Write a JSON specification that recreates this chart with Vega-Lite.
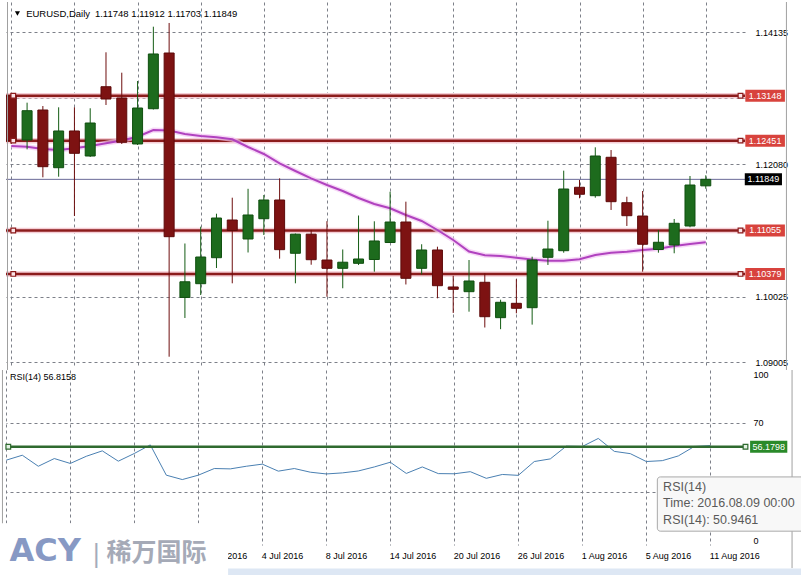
{
  "$schema": "https://vega.github.io/schema/vega-lite/v6.json",
  "padding": {"left": 0, "top": 1, "right": 0, "bottom": 0},
  "background": "white",
  "spacing": 4,
  "bounds": "flush",
  "config": {
    "view": {"stroke": null},
    "font": "Liberation Sans",
    "axis": {
      "labelFont": "Liberation Sans",
      "labelFontSize": 9,
      "labelColor": "#000000",
      "gridColor": "#7d8089",
      "gridDash": [3, 3],
      "gridWidth": 1,
      "gridOpacity": 1,
      "ticks": false,
      "domain": false,
      "title": null,
      "labelOverlap": false
    }
  },
  "datasets": {
    "candles": [
      {"k":0,"o":1.13148,"h":1.13190,"l":1.12400,"c":1.12451,"ma":1.12368},
      {"k":1,"o":1.12461,"h":1.13041,"l":1.12316,"c":1.12916,"ma":1.12357},
      {"k":2,"o":1.12927,"h":1.12989,"l":1.11881,"c":1.12046,"ma":1.12321},
      {"k":3,"o":1.12030,"h":1.12969,"l":1.11890,"c":1.12601,"ma":1.12305},
      {"k":4,"o":1.12601,"h":1.12969,"l":1.11279,"c":1.12254,"ma":1.12332},
      {"k":5,"o":1.12212,"h":1.12954,"l":1.12197,"c":1.12725,"ma":1.12368},
      {"k":6,"o":1.13289,"h":1.13824,"l":1.13005,"c":1.13098,"ma":1.12410},
      {"k":7,"o":1.13114,"h":1.13507,"l":1.12399,"c":1.12425,"ma":1.12453},
      {"k":8,"o":1.12399,"h":1.13378,"l":1.12383,"c":1.12958,"ma":1.12512},
      {"k":9,"o":1.12947,"h":1.14222,"l":1.12935,"c":1.13798,"ma":1.12616},
      {"k":10,"o":1.13813,"h":1.14280,"l":1.09092,"c":1.10958,"ma":1.12609},
      {"k":11,"o":1.10013,"h":1.10852,"l":1.09694,"c":1.10257,"ma":1.12554},
      {"k":12,"o":1.10227,"h":1.11113,"l":1.10051,"c":1.10642,"ma":1.12523},
      {"k":13,"o":1.10631,"h":1.11315,"l":1.10471,"c":1.11248,"ma":1.12503},
      {"k":14,"o":1.11217,"h":1.11564,"l":1.10233,"c":1.11054,"ma":1.12472},
      {"k":15,"o":1.10922,"h":1.11702,"l":1.10712,"c":1.11295,"ma":1.12352},
      {"k":16,"o":1.11237,"h":1.11606,"l":1.10984,"c":1.11528,"ma":1.12243},
      {"k":17,"o":1.11528,"h":1.11865,"l":1.10616,"c":1.10756,"ma":1.12096},
      {"k":18,"o":1.10700,"h":1.11007,"l":1.10233,"c":1.10997,"ma":1.11979},
      {"k":19,"o":1.10997,"h":1.11062,"l":1.10522,"c":1.10600,"ma":1.11865},
      {"k":20,"o":1.10595,"h":1.11199,"l":1.10025,"c":1.10466,"ma":1.11761},
      {"k":21,"o":1.10466,"h":1.10759,"l":1.10156,"c":1.10561,"ma":1.11668},
      {"k":22,"o":1.10544,"h":1.11287,"l":1.10518,"c":1.10611,"ma":1.11559},
      {"k":23,"o":1.10603,"h":1.11197,"l":1.10414,"c":1.10891,"ma":1.11466},
      {"k":24,"o":1.10867,"h":1.11657,"l":1.10860,"c":1.11186,"ma":1.11399},
      {"k":25,"o":1.11186,"h":1.11502,"l":1.10215,"c":1.10311,"ma":1.11295},
      {"k":26,"o":1.10466,"h":1.10840,"l":1.10370,"c":1.10751,"ma":1.11202},
      {"k":27,"o":1.10751,"h":1.10802,"l":1.10000,"c":1.10196,"ma":1.11062},
      {"k":28,"o":1.10176,"h":1.10350,"l":1.09772,"c":1.10140,"ma":1.10906},
      {"k":29,"o":1.10103,"h":1.10595,"l":1.09792,"c":1.10269,"ma":1.10728},
      {"k":30,"o":1.10249,"h":1.10389,"l":1.09546,"c":1.09714,"ma":1.10670},
      {"k":31,"o":1.09699,"h":1.09978,"l":1.09520,"c":1.09938,"ma":1.10658},
      {"k":32,"o":1.09922,"h":1.10297,"l":1.09767,"c":1.09845,"ma":1.10630},
      {"k":33,"o":1.09854,"h":1.10647,"l":1.09591,"c":1.10595,"ma":1.10602},
      {"k":34,"o":1.10637,"h":1.11206,"l":1.10518,"c":1.10766,"ma":1.10585},
      {"k":35,"o":1.10740,"h":1.11984,"l":1.10709,"c":1.11699,"ma":1.10585},
      {"k":36,"o":1.11726,"h":1.11839,"l":1.11555,"c":1.11617,"ma":1.10606},
      {"k":37,"o":1.11595,"h":1.12347,"l":1.11564,"c":1.12212,"ma":1.10673},
      {"k":38,"o":1.12192,"h":1.12305,"l":1.11373,"c":1.11502,"ma":1.10709},
      {"k":39,"o":1.11486,"h":1.11579,"l":1.11124,"c":1.11284,"ma":1.10724},
      {"k":40,"o":1.11279,"h":1.11668,"l":1.10414,"c":1.10840,"ma":1.10751},
      {"k":41,"o":1.10759,"h":1.11062,"l":1.10709,"c":1.10871,"ma":1.10771},
      {"k":42,"o":1.10829,"h":1.11233,"l":1.10700,"c":1.11166,"ma":1.10813},
      {"k":43,"o":1.11124,"h":1.11901,"l":1.11104,"c":1.11761,"ma":1.10844},
      {"k":44,"o":1.11748,"h":1.11912,"l":1.11703,"c":1.11849,"ma":1.10871}
    ],
    "rsi": [
      {"k":0,"rsi":48.5},{"k":1,"rsi":51.3},{"k":2,"rsi":45.0},{"k":3,"rsi":49.4},
      {"k":4,"rsi":46.6},{"k":5,"rsi":50.7},{"k":6,"rsi":53.8},{"k":7,"rsi":47.9},
      {"k":8,"rsi":52.3},{"k":9,"rsi":57.2},{"k":10,"rsi":39.9},{"k":11,"rsi":37.4},
      {"k":12,"rsi":39.9},{"k":13,"rsi":43.7},{"k":14,"rsi":43.5},{"k":15,"rsi":45.0},
      {"k":16,"rsi":46.2},{"k":17,"rsi":42.2},{"k":18,"rsi":43.7},{"k":19,"rsi":41.6},
      {"k":20,"rsi":40.6},{"k":21,"rsi":41.2},{"k":22,"rsi":42.3},{"k":23,"rsi":44.6},
      {"k":24,"rsi":47.3},{"k":25,"rsi":40.9},{"k":26,"rsi":44.6},{"k":27,"rsi":40.8},
      {"k":28,"rsi":40.7},{"k":29,"rsi":41.9},{"k":30,"rsi":38.1},{"k":31,"rsi":40.3},
      {"k":32,"rsi":39.8},{"k":33,"rsi":47.7},{"k":34,"rsi":49.2},{"k":35,"rsi":56.5},
      {"k":36,"rsi":56.3},{"k":37,"rsi":60.9},{"k":38,"rsi":53.5},{"k":39,"rsi":52.2},
      {"k":40,"rsi":47.7},{"k":41,"rsi":48.2},{"k":42,"rsi":50.9},{"k":43,"rsi":56.3},
      {"k":44,"rsi":56.8}
    ],
    "hlines": [
      {"price": 1.13148},
      {"price": 1.12451},
      {"price": 1.11055},
      {"price": 1.10379}
    ]
  },
  "vconcat": [
    {
      "width": 739,
      "height": 364,
      "layer": [
        {
          "data": {"name": "hlines"},
          "mark": {"type": "rule", "color": "#f5cdd5", "strokeWidth": 5.5},
          "encoding": {
            "y": {"field": "price", "type": "quantitative",
                  "scale": {"domain": [1.089476, 1.146060], "nice": false, "zero": false},
                  "axis": {"orient": "right", "values": [1.14135, 1.13625, 1.1311, 1.1259, 1.1208, 1.1157, 1.11055, 1.10535, 1.10025, 1.09515, 1.09005],
                           "format": ".5f", "labelPadding": 10, "grid": true,
                           "labelExpr": "(datum.value == 1.1311 || datum.value == 1.11055) ? '' : datum.label"}}
          }
        },
        {
          "data": {"name": "hlines"},
          "mark": {"type": "rule", "color": "#8c1c1c", "strokeWidth": 2.5},
          "encoding": {"y": {"field": "price", "type": "quantitative"}}
        },
        {
          "data": {"name": "candles"},
          "transform": [{"filter": "datum.k == 44"}],
          "mark": {"type": "rule", "color": "#6a6a98", "strokeWidth": 1},
          "encoding": {"y": {"field": "c", "type": "quantitative"}}
        },
        {
          "data": {"name": "candles"},
          "mark": {"type": "line", "color": "#f3c8f3", "strokeWidth": 5, "opacity": 0.7, "clip": true},
          "encoding": {
            "x": {"field": "k", "type": "quantitative",
                  "scale": {"domain": [-0.01875, 46.16875], "nice": false, "zero": false},
                  "axis": {"values": [0,2,4,6,8,10,12,14,16,18,20,22,24,26,28,30,32,34,36,38,40,42,44,46], "labels": false, "grid": true, "minExtent": 0, "maxExtent": 0}},
            "y": {"field": "ma", "type": "quantitative"}
          }
        },
        {
          "data": {"name": "candles"},
          "mark": {"type": "line", "color": "#b042bf", "strokeWidth": 2, "clip": true},
          "encoding": {
            "x": {"field": "k", "type": "quantitative"},
            "y": {"field": "ma", "type": "quantitative"}
          }
        },
        {
          "data": {"name": "candles"},
          "mark": {"type": "rule", "strokeWidth": 1, "clip": true},
          "encoding": {
            "x": {"field": "k", "type": "quantitative"},
            "y": {"field": "l", "type": "quantitative"},
            "y2": {"field": "h"},
            "color": {"condition": {"test": "datum.c >= datum.o", "value": "#145c14"}, "value": "#6e0e0e"}
          }
        },
        {
          "data": {"name": "candles"},
          "mark": {"type": "bar", "size": 10, "clip": true, "strokeWidth": 1},
          "encoding": {
            "x": {"field": "k", "type": "quantitative"},
            "y": {"field": "o", "type": "quantitative"},
            "y2": {"field": "c"},
            "fill": {"condition": {"test": "datum.c >= datum.o", "value": "#1d6b1d"}, "value": "#7d1212"},
            "stroke": {"condition": {"test": "datum.c >= datum.o", "value": "#0f4f0f"}, "value": "#5e0a0a"}
          }
        },
        {
          "data": {"name": "hlines"},
          "mark": {"type": "point", "shape": "square", "size": 22, "filled": true, "fill": "#fbe4e8", "stroke": "#8c1c1c", "strokeWidth": 1.2, "opacity": 1},
          "encoding": {
            "x": {"datum": 0.125, "type": "quantitative"},
            "y": {"field": "price", "type": "quantitative"}
          }
        },
        {
          "data": {"name": "hlines"},
          "mark": {"type": "point", "shape": "square", "size": 22, "filled": true, "fill": "#fbe4e8", "stroke": "#8c1c1c", "strokeWidth": 1.2, "opacity": 1},
          "encoding": {
            "x": {"datum": 46.2, "type": "quantitative"},
            "y": {"field": "price", "type": "quantitative"}
          }
        },
        {
          "data": {"name": "hlines"},
          "mark": {"type": "point", "shape": "M-3.3,-1H3.3V1H-3.3Z", "size": 144, "filled": true, "fill": "#d8433d", "strokeWidth": 0, "opacity": 1},
          "encoding": {
            "x": {"datum": 47.76, "type": "quantitative"},
            "y": {"field": "price", "type": "quantitative"}
          }
        },
        {
          "data": {"name": "hlines"},
          "mark": {"type": "text", "fontSize": 9, "color": "#ffffff", "align": "center", "baseline": "middle"},
          "encoding": {
            "x": {"datum": 47.76, "type": "quantitative"},
            "y": {"field": "price", "type": "quantitative"},
            "text": {"field": "price", "type": "quantitative", "format": ".5f"}
          }
        },
        {
          "data": {"name": "candles"},
          "transform": [{"filter": "datum.k == 44"}],
          "mark": {"type": "point", "shape": "M-3.1,-1H3.1V1H-3.1Z", "size": 144, "filled": true, "fill": "#000000", "strokeWidth": 0, "opacity": 1},
          "encoding": {
            "x": {"datum": 47.65, "type": "quantitative"},
            "y": {"field": "c", "type": "quantitative"}
          }
        },
        {
          "data": {"name": "candles"},
          "transform": [{"filter": "datum.k == 44"}],
          "mark": {"type": "text", "fontSize": 9, "color": "#ffffff", "align": "center", "baseline": "middle"},
          "encoding": {
            "x": {"datum": 47.65, "type": "quantitative"},
            "y": {"field": "c", "type": "quantitative"},
            "text": {"field": "c", "type": "quantitative", "format": ".5f"}
          }
        },
        {
          "data": {"values": [{}]},
          "mark": {"type": "point", "shape": "triangle-down", "size": 26, "filled": true, "fill": "#000000", "strokeWidth": 0, "opacity": 1},
          "encoding": {
            "x": {"datum": 0.39, "type": "quantitative"},
            "y": {"datum": 1.144272, "type": "quantitative"}
          }
        },
        {
          "data": {"values": [{}]},
          "mark": {"type": "text", "fontSize": 9.5, "color": "#000000", "align": "left", "baseline": "middle", "text": "EURUSD,Daily"},
          "encoding": {
            "x": {"datum": 0.94, "type": "quantitative"},
            "y": {"datum": 1.144272, "type": "quantitative"}
          }
        },
        {
          "data": {"name": "candles"},
          "transform": [{"filter": "datum.k == 44"}, {"calculate": "format(datum.o, '.5f') + ' ' + format(datum.h, '.5f') + ' ' + format(datum.l, '.5f') + ' ' + format(datum.c, '.5f')", "as": "ohlc"}],
          "mark": {"type": "text", "fontSize": 9.5, "color": "#000000", "align": "left", "baseline": "middle"},
          "encoding": {
            "x": {"datum": 5.3, "type": "quantitative"},
            "y": {"datum": 1.144272, "type": "quantitative"},
            "text": {"field": "ohlc", "type": "nominal"}
          }
        },
        {
          "data": {"values": [{}]},
          "mark": {"type": "rule", "color": "#a0a0a0", "strokeWidth": 1},
          "encoding": {
            "x": {"datum": 49.11, "type": "quantitative"},
            "y": {"datum": 1.146060, "type": "quantitative"},
            "y2": {"datum": 1.08886}
          }
        },
        {
          "data": {"values": [{}]},
          "mark": {"type": "rule", "color": "#a0a0a0", "strokeWidth": 1},
          "encoding": {
            "x": {"datum": -0.24, "type": "quantitative"},
            "y": {"datum": 1.146060, "type": "quantitative"},
            "y2": {"datum": 1.08886}
          }
        }
      ]
    },
    {
      "width": 739,
      "height": 175,
      "layer": [
        {
          "data": {"name": "rsi"},
          "mark": {"type": "line", "color": "#4a80b2", "strokeWidth": 1},
          "encoding": {
            "x": {"field": "k", "type": "quantitative",
                  "scale": {"domain": [-0.01875, 46.16875], "nice": false, "zero": false},
                  "axis": {"values": [0,2,4,6,8,10,12,14,16,18,20,22,24,26,28,30,32,34,36,38,40,42,44,46],
                           "grid": true, "labelAlign": "left", "labelBaseline": "top", "labelPadding": 6, "labelFlush": false, "labelOffset": -1,
                           "labelExpr": "(datum.value % 4 == 0 && datum.value >= 12) ? ['10 Jun 2016','16 Jun 2016','22 Jun 2016','28 Jun 2016','4 Jul 2016','8 Jul 2016','14 Jul 2016','20 Jul 2016','26 Jul 2016','1 Aug 2016','5 Aug 2016','11 Aug 2016'][datum.value / 4] : ''"}},
            "y": {"field": "rsi", "type": "quantitative",
                  "scale": {"domain": [0, 100], "nice": false, "zero": false},
                  "axis": {"orient": "right", "values": [0, 30, 70, 100], "labelPadding": 8, "labelFlush": true, "grid": true,
                           "labelExpr": "datum.value == 30 ? '' : datum.label",
                           "gridOpacity": {"condition": {"test": "datum.value == 0 || datum.value == 100", "value": 0}, "value": 1}}}
          }
        },
        {
          "data": {"values": [{}]},
          "mark": {"type": "rule", "color": "#2f6a2f", "strokeWidth": 2.5},
          "encoding": {"y": {"datum": 56.1798, "type": "quantitative"}}
        },
        {
          "data": {"values": [{"k": 0.125}, {"k": 46.2}]},
          "mark": {"type": "point", "shape": "square", "size": 22, "filled": true, "fill": "#e4f2e4", "stroke": "#2f6a2f", "strokeWidth": 1.2, "opacity": 1},
          "encoding": {
            "x": {"field": "k", "type": "quantitative"},
            "y": {"datum": 56.1798, "type": "quantitative"}
          }
        },
        {
          "data": {"values": [{}]},
          "mark": {"type": "point", "shape": "M-3.1,-1H3.1V1H-3.1Z", "size": 144, "filled": true, "fill": "#2a8a2a", "strokeWidth": 0, "opacity": 1},
          "encoding": {
            "x": {"datum": 47.65, "type": "quantitative"},
            "y": {"datum": 56.1798, "type": "quantitative"}
          }
        },
        {
          "data": {"values": [{}]},
          "mark": {"type": "text", "fontSize": 9, "color": "#ffffff", "align": "center", "baseline": "middle", "text": "56.1798"},
          "encoding": {
            "x": {"datum": 47.65, "type": "quantitative"},
            "y": {"datum": 56.1798, "type": "quantitative"}
          }
        },
        {
          "data": {"values": [{}]},
          "mark": {"type": "text", "fontSize": 9, "color": "#000000", "align": "left", "baseline": "middle", "text": "RSI(14) 56.8158"},
          "encoding": {
            "x": {"datum": 0.23, "type": "quantitative"},
            "y": {"datum": 96.2, "type": "quantitative"}
          }
        },
        {
          "data": {"values": [{}]},
          "mark": {"type": "rule", "color": "#a0a0a0", "strokeWidth": 1},
          "encoding": {
            "x": {"datum": 49.11, "type": "quantitative"},
            "y": {"datum": 100, "type": "quantitative"},
            "y2": {"datum": -13.2}
          }
        },
        {
          "data": {"values": [{}]},
          "mark": {"type": "rule", "color": "#a0a0a0", "strokeWidth": 1},
          "encoding": {
            "x": {"datum": -0.24, "type": "quantitative"},
            "y": {"datum": 100, "type": "quantitative"},
            "y2": {"datum": 12}
          }
        },
        {
          "data": {"values": [{}]},
          "mark": {"type": "rect", "fill": "#f8f8f8", "stroke": "#a9a9a9", "strokeWidth": 1, "cornerRadius": 3},
          "encoding": {
            "x": {"datum": 40.69, "type": "quantitative"},
            "x2": {"datum": 49.9},
            "y": {"datum": 38.9, "type": "quantitative"},
            "y2": {"datum": 7.9}
          }
        },
        {
          "data": {"values": [{}]},
          "mark": {"type": "text", "fontSize": 12.5, "color": "#5a5a5a", "align": "left", "baseline": "middle", "text": "RSI(14)"},
          "encoding": {
            "x": {"datum": 41.05, "type": "quantitative"},
            "y": {"datum": 33.3, "type": "quantitative"}
          }
        },
        {
          "data": {"values": [{}]},
          "mark": {"type": "text", "fontSize": 12.5, "color": "#5a5a5a", "align": "left", "baseline": "middle", "text": "Time: 2016.08.09 00:00"},
          "encoding": {
            "x": {"datum": 41.05, "type": "quantitative"},
            "y": {"datum": 23.8, "type": "quantitative"}
          }
        },
        {
          "data": {"values": [{}]},
          "mark": {"type": "text", "fontSize": 12.5, "color": "#5a5a5a", "align": "left", "baseline": "middle", "text": "RSI(14): 50.9461"},
          "encoding": {
            "x": {"datum": 41.05, "type": "quantitative"},
            "y": {"datum": 14.3, "type": "quantitative"}
          }
        },
        {
          "data": {"values": [{}]},
          "mark": {"type": "rect", "fill": "#dde7f4"},
          "encoding": {
            "x": {"datum": 13.86, "type": "quantitative"},
            "x2": {"datum": 50.2},
            "y": {"datum": -13.4, "type": "quantitative"},
            "y2": {"datum": -20}
          }
        },
        {
          "data": {"values": [{}]},
          "mark": {"type": "rect", "fill": "#ffffff"},
          "encoding": {
            "x": {"datum": -0.389, "type": "quantitative"},
            "x2": {"datum": 13.86},
            "y": {"datum": 12.5, "type": "quantitative"},
            "y2": {"datum": -20}
          }
        },
        {
          "data": {"values": [{}]},
          "mark": {"type": "text", "font": "DejaVu Sans", "fontWeight": "bold", "fontSize": 32, "color": "#8799c4", "align": "left", "baseline": "alphabetic", "text": "ACY"},
          "encoding": {
            "x": {"datum": 0.2, "type": "quantitative"},
            "y": {"datum": -8.9, "type": "quantitative"}
          }
        },
        {
          "data": {"values": [{}]},
          "mark": {"type": "text", "font": "DejaVu Sans", "fontSize": 24, "color": "#a4abbb", "align": "center", "baseline": "alphabetic", "text": "|"},
          "encoding": {
            "x": {"datum": 5.62, "type": "quantitative"},
            "y": {"datum": -9.6, "type": "quantitative"}
          }
        },
        {
          "data": {"values": [{}]},
          "mark": {"type": "text", "font": "Noto Sans CJK SC", "fontWeight": "bold", "fontSize": 25, "color": "#a5aab7", "align": "left", "baseline": "alphabetic", "text": "稀万国际"},
          "encoding": {
            "x": {"datum": 6.27, "type": "quantitative"},
            "y": {"datum": -9.0, "type": "quantitative"}
          }
        }
      ]
    }
  ]
}
